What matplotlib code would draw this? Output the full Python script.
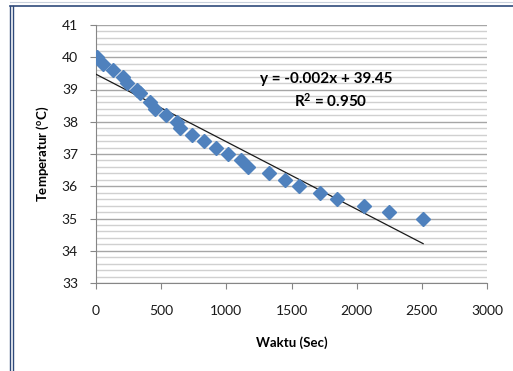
import numpy as np
import matplotlib
matplotlib.use("Agg")
import matplotlib.pyplot as plt
from matplotlib.lines import Line2D
from matplotlib.ticker import MultipleLocator

# data
waktu = [5, 50, 130, 210, 240, 315, 340, 415, 455, 540, 620, 645, 735, 830,
         920, 1010, 1110, 1165, 1330, 1450, 1560, 1720, 1850, 2060, 2250, 2510]
suhu = [40.0, 39.8, 39.6, 39.4, 39.2, 39.0, 38.9, 38.6, 38.4, 38.2, 38.0, 37.8,
        37.6, 37.4, 37.2, 37.0, 36.8, 36.6, 36.4, 36.2, 36.0, 35.8, 35.6, 35.4,
        35.2, 35.0]
x_ticks = [0, 500, 1000, 1500, 2000, 2500, 3000]
y_ticks = [33, 34, 35, 36, 37, 38, 39, 40, 41]
eq_text = "y = -0.002x + 39.45"
r2_text = "R$^{2}$ = 0.950"

plt.rcParams["font.family"] = ["Lato", "DejaVu Sans"]
plt.rcParams["mathtext.fontset"] = "custom"
plt.rcParams["mathtext.rm"] = "Lato:bold"
plt.rcParams["mathtext.it"] = "Lato:bold"
plt.rcParams["mathtext.bf"] = "Lato:bold"

fig = plt.figure(figsize=(5.13, 3.71), dpi=100)
ax = fig.add_axes([96 / 513, 1 - 283 / 371, 391 / 513, 258 / 371])

# trendline (linear fit over data range)
k, b = np.polyfit(waktu, suhu, 1)
xs = np.array([0, max(waktu)])
ax.plot(xs, k * xs + b, color="#1a1a1a", lw=0.9, zorder=3)
ax.plot(waktu, suhu, "D", color="#4F81BD", ms=7, mec="#4F81BD", zorder=4)

ax.set_xlim(0, 3000)
ax.set_ylim(33, 41)
ax.set_xticks(x_ticks)
ax.set_yticks(y_ticks)
ax.yaxis.set_minor_locator(MultipleLocator(0.2))
ax.grid(axis="y", which="major", color="#A6A6A6", lw=1.0)
ax.grid(axis="y", which="minor", color="#D0D0D0", lw=1.0)
ax.set_axisbelow(True)
for s in ["top", "right"]:
    ax.spines[s].set_visible(False)
for s in ["left", "bottom"]:
    ax.spines[s].set_color("#868686")
ax.tick_params(axis="both", which="major", length=4, color="#868686",
               labelsize=10, labelcolor="#1a1a1a")
ax.tick_params(axis="x", pad=12)
ax.tick_params(axis="y", pad=9)
ax.tick_params(axis="y", which="minor", length=0)

ax.set_xlabel("Waktu (Sec)", fontsize=9.5, fontweight="bold", labelpad=14)
ax.set_ylabel("Temperatur ($^{o}$C)", fontsize=9.5, fontweight="bold", labelpad=8)

ax.text(0.59, 0.79, eq_text, transform=ax.transAxes, ha="center", va="center",
        fontsize=11, fontweight="bold")
ax.text(0.60, 0.705, r2_text, transform=ax.transAxes, ha="center", va="center",
        fontsize=11, fontweight="bold")

# excel window border
fig.add_artist(Line2D([10 / 513, 10 / 513], [0, 1 - 6 / 371], color="#2F4A7A", lw=1.0))
fig.add_artist(Line2D([13 / 513, 13 / 513], [0, 1 - 6 / 371], color="#2F4A7A", lw=1.0))
fig.add_artist(Line2D([10 / 513, 1], [1 - 6 / 371, 1 - 6 / 371], color="#2F4A7A", lw=1.2))
fig.add_artist(Line2D([10 / 513, 1], [1 - 2 / 371, 1 - 2 / 371], color="#C8D0DC", lw=0.8))

fig.savefig("out.png", dpi=100)
